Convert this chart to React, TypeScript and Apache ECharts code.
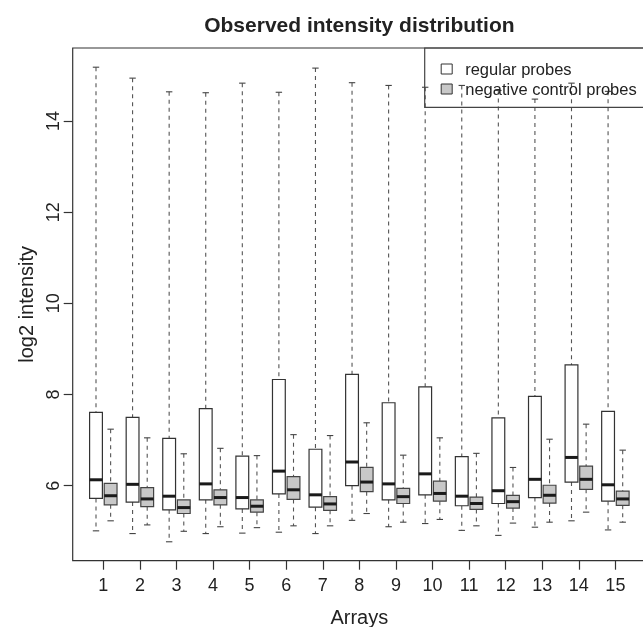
import React, { useEffect, useRef } from "react";
import * as echarts from "echarts";

// Array indices (x categories)
const arrays = [1, 2, 3, 4, 5, 6, 7, 8, 9, 10, 11, 12, 13, 14, 15];

// Box statistics per array: [lower whisker, Q1, median, Q3, upper whisker]
const regularProbes = [
  [5.01, 5.72, 6.13, 7.61, 15.18],
  [4.95, 5.64, 6.03, 7.5, 14.94],
  [4.77, 5.47, 5.77, 7.04, 14.64],
  [4.95, 5.69, 6.04, 7.69, 14.62],
  [4.96, 5.49, 5.74, 6.65, 14.83],
  [4.98, 5.82, 6.32, 8.33, 14.63],
  [4.95, 5.53, 5.8, 6.8, 15.16],
  [5.24, 6.0, 6.52, 8.44, 14.84],
  [5.1, 5.69, 6.04, 7.82, 14.78],
  [5.17, 5.8, 6.26, 8.17, 14.74],
  [5.02, 5.56, 5.77, 6.64, 14.78],
  [4.91, 5.61, 5.89, 7.49, 14.67],
  [5.09, 5.74, 6.14, 7.96, 14.48],
  [5.23, 6.08, 6.62, 8.65, 14.83],
  [5.03, 5.66, 6.02, 7.63, 14.65],
];

const negativeControlProbes = [
  [5.23, 5.58, 5.78, 6.05, 7.24],
  [5.14, 5.54, 5.71, 5.96, 7.05],
  [5.0, 5.39, 5.52, 5.69, 6.7],
  [5.1, 5.58, 5.74, 5.91, 6.82],
  [5.08, 5.42, 5.55, 5.69, 6.66],
  [5.12, 5.7, 5.91, 6.2, 7.12],
  [5.12, 5.46, 5.6, 5.76, 7.1],
  [5.39, 5.87, 6.08, 6.4, 7.38],
  [5.2, 5.61, 5.76, 5.94, 6.67],
  [5.26, 5.66, 5.83, 6.1, 7.05],
  [5.12, 5.48, 5.61, 5.75, 6.71],
  [5.18, 5.51, 5.65, 5.79, 6.4],
  [5.2, 5.62, 5.79, 6.01, 7.02],
  [5.42, 5.92, 6.14, 6.43, 7.35],
  [5.2, 5.57, 5.71, 5.88, 6.78],
];

const yTicks = [6, 8, 10, 12, 14];
const seriesNames = ["regular probes", "negative control probes"];
const titleText = "Observed intensity distribution";
const xName = "Arrays";
const yName = "log2 intensity";

const FONT = "'Liberation Sans', Arial, Helvetica, sans-serif";
const BOX_W = 0.35;
const OFFSET = 0.2;

export default function App() {
  const ref = useRef<HTMLDivElement>(null);

  useEffect(() => {
    const chart = echarts.init(ref.current as HTMLDivElement, null, {
      renderer: "svg",
    });

    const makeRender =
      (fill: string, stroke: string) => (params: any, api: any) => {
        const x = api.value(0) as number;
        const lo = api.value(1) as number;
        const q1 = api.value(2) as number;
        const md = api.value(3) as number;
        const q3 = api.value(4) as number;
        const hi = api.value(5) as number;
        const c = (a: number, b: number) => api.coord([a, b]);
        const tl = c(x - BOX_W / 2, q3);
        const br = c(x + BOX_W / 2, q1);
        const top = c(x, hi);
        const bot = c(x, lo);
        const q3p = c(x, q3);
        const q1p = c(x, q1);
        const capL = c(x - BOX_W / 4, hi)[0];
        const capR = c(x + BOX_W / 4, hi)[0];
        const medY = c(x, md)[1];
        const whisk = { stroke: "#555", lineWidth: 1.1, lineDash: [4, 4] };
        const cap = { stroke: "#444", lineWidth: 1.1 };
        return {
          type: "group",
          children: [
            {
              type: "line",
              shape: { x1: top[0], y1: top[1], x2: q3p[0], y2: q3p[1] },
              style: whisk,
            },
            {
              type: "line",
              shape: { x1: q1p[0], y1: q1p[1], x2: bot[0], y2: bot[1] },
              style: whisk,
            },
            {
              type: "line",
              shape: { x1: capL, y1: top[1], x2: capR, y2: top[1] },
              style: cap,
            },
            {
              type: "line",
              shape: { x1: capL, y1: bot[1], x2: capR, y2: bot[1] },
              style: cap,
            },
            {
              type: "rect",
              shape: {
                x: tl[0],
                y: tl[1],
                width: br[0] - tl[0],
                height: br[1] - tl[1],
              },
              style: { fill, stroke, lineWidth: 1.2 },
            },
            {
              type: "line",
              shape: { x1: tl[0], y1: medY, x2: br[0], y2: medY },
              style: { stroke: "#1a1a1a", lineWidth: 3 },
            },
          ],
        };
      };

    const regData = regularProbes.map((s, i) => [arrays[i] - OFFSET, ...s]);
    const negData = negativeControlProbes.map((s, i) => [
      arrays[i] + OFFSET,
      ...s,
    ]);

    chart.setOption({
      animation: false,
      textStyle: { fontFamily: FONT, color: "#222" },
      title: {
        text: titleText,
        left: 359.4,
        top: 14,
        padding: 0,
        textAlign: "center",
        textStyle: {
          fontFamily: FONT,
          fontSize: 21,
          fontWeight: "bold",
          color: "#222",
        },
      },
      legend: {
        orient: "vertical",
        left: 424.7,
        top: 48,
        padding: [11, 40, 8.3, 16],
        itemWidth: 11,
        itemHeight: 10,
        itemGap: 0,
        icon: "rect",
        borderColor: "#444",
        borderWidth: 1.2,
        textStyle: {
          fontFamily: FONT,
          fontSize: 16.5,
          lineHeight: 20,
          color: "#222",
          padding: [0, 0, 0, 8],
        },
        data: [
          {
            name: seriesNames[0],
            itemStyle: { color: "#ffffff", borderColor: "#333", borderWidth: 1 },
          },
          {
            name: seriesNames[1],
            itemStyle: { color: "#c8c8c8", borderColor: "#333", borderWidth: 1 },
          },
        ],
      },
      grid: {
        left: 72.7,
        top: 48,
        width: 573.3,
        height: 512.7,
        show: true,
        borderColor: "#333",
        borderWidth: 1.2,
        backgroundColor: "transparent",
        containLabel: false,
        outerBoundsMode: "none",
      },
      xAxis: {
        type: "value",
        min: 0.163,
        max: 15.837,
        name: xName,
        nameLocation: "middle",
        nameGap: 46.4,
        nameTextStyle: { fontFamily: FONT, fontSize: 20, color: "#222" },
        axisLine: { show: false },
        splitLine: { show: false },
        axisTick: {
          show: true,
          length: 9,
          customValues: arrays,
          lineStyle: { color: "#333", width: 1.2 },
        },
        axisLabel: {
          customValues: arrays,
          margin: 15.6,
          fontFamily: FONT,
          fontSize: 18,
          color: "#222",
        },
      },
      yAxis: {
        type: "value",
        min: 4.355,
        max: 15.601,
        name: yName,
        nameLocation: "middle",
        nameRotate: 90,
        nameGap: 36,
        nameTextStyle: { fontFamily: FONT, fontSize: 20, color: "#222" },
        axisLine: { show: false },
        splitLine: { show: false },
        axisTick: {
          show: true,
          length: 9,
          customValues: yTicks,
          lineStyle: { color: "#333", width: 1.2 },
        },
        axisLabel: {
          customValues: yTicks,
          rotate: 90,
          margin: 11,
          fontFamily: FONT,
          fontSize: 18,
          color: "#222",
        },
      },
      series: [
        {
          name: seriesNames[0],
          type: "custom",
          renderItem: makeRender("#ffffff", "#333"),
          itemStyle: { color: "#ffffff", borderColor: "#333" },
          encode: { x: 0, y: [1, 2, 3, 4, 5] },
          data: regData,
        },
        {
          name: seriesNames[1],
          type: "custom",
          renderItem: makeRender("#c8c8c8", "#444"),
          itemStyle: { color: "#c8c8c8", borderColor: "#333" },
          encode: { x: 0, y: [1, 2, 3, 4, 5] },
          data: negData,
        },
      ],
    });

    return () => chart.dispose();
  }, []);

  return (
    <div
      ref={ref}
      style={{ position: "fixed", left: 0, top: 0, width: 643, height: 627 }}
    />
  );
}
